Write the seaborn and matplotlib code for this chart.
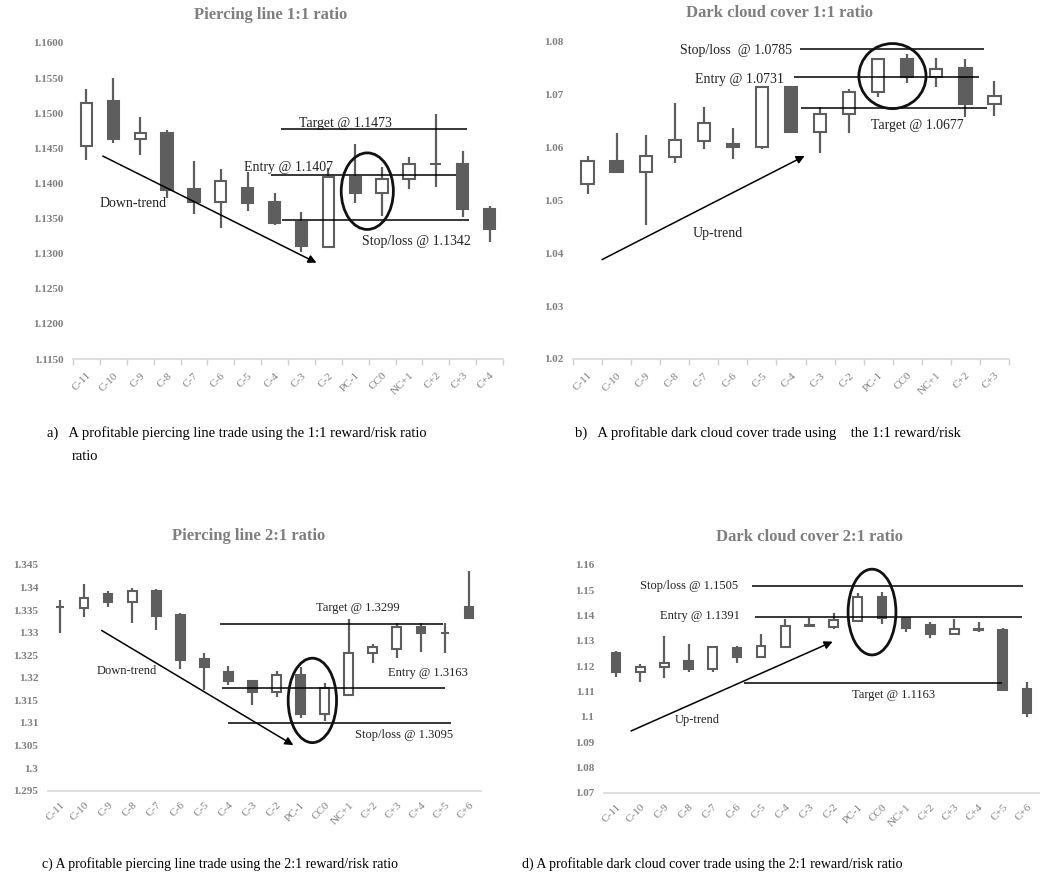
import numpy as np
import matplotlib
matplotlib.use("Agg")
import matplotlib.pyplot as plt
from matplotlib.patches import Ellipse
import seaborn as sns

# ---- data: panel a (piercing line 1:1) ----
labels_a = ["C-11", "C-10", "C-9", "C-8", "C-7", "C-6", "C-5", "C-4", "C-3", "C-2",
            "PC-1", "CC0", "NC+1", "C+2", "C+3", "C+4"]
open_a = [1.1453, 1.1517, 1.1464, 1.1472, 1.1392, 1.1374, 1.1393, 1.1373, 1.1345, 1.1310,
          1.1409, 1.1386, 1.1407, 1.1427, 1.1427, 1.1364]
close_a = [1.1514, 1.1464, 1.1472, 1.1391, 1.1374, 1.1404, 1.1372, 1.1344, 1.1311, 1.1409,
           1.1387, 1.1407, 1.1427, 1.1427, 1.1363, 1.1335]
high_a = [1.1535, 1.1550, 1.1494, 1.1476, 1.1432, 1.1421, 1.1416, 1.1387, 1.1360, 1.1422,
          1.1456, 1.1423, 1.1438, 1.1499, 1.1446, 1.1368]
low_a = [1.1433, 1.1457, 1.1440, 1.1379, 1.1356, 1.1336, 1.1361, 1.1341, 1.1303, 1.1308,
         1.1372, 1.1354, 1.1392, 1.1395, 1.1352, 1.1317]

# ---- data: panel b (dark cloud cover 1:1) ----
labels_b = ["C-11", "C-10", "C-9", "C-8", "C-7", "C-6", "C-5", "C-4", "C-3", "C-2",
            "PC-1", "CC0", "NC+1", "C+2", "C+3"]
open_b = [1.0531, 1.0574, 1.0553, 1.0582, 1.0613, 1.0606, 1.0600, 1.0715, 1.0630, 1.0664,
          1.0704, 1.0767, 1.0733, 1.0750, 1.0682]
close_b = [1.0574, 1.0553, 1.0584, 1.0614, 1.0646, 1.0600, 1.0714, 1.0630, 1.0664, 1.0704,
           1.0767, 1.0733, 1.0748, 1.0682, 1.0697]
high_b = [1.0584, 1.0628, 1.0624, 1.0685, 1.0676, 1.0636, 1.0716, 1.0716, 1.0677, 1.0710,
          1.0770, 1.0777, 1.0770, 1.0767, 1.0726]
low_b = [1.0512, 1.0551, 1.0453, 1.0571, 1.0598, 1.0579, 1.0598, 1.0629, 1.0590, 1.0627,
         1.0696, 1.0721, 1.0714, 1.0658, 1.0659]

# ---- data: panel c (piercing line 2:1) ----
labels_cd = ["C-11", "C-10", "C-9", "C-8", "C-7", "C-6", "C-5", "C-4", "C-3", "C-2",
             "PC-1", "CC0", "NC+1", "C+2", "C+3", "C+4", "C+5", "C+6"]
open_c = [1.3356, 1.3354, 1.3386, 1.3369, 1.3393, 1.3340, 1.3242, 1.3214, 1.3193, 1.3169,
          1.3207, 1.3120, 1.3163, 1.3254, 1.3265, 1.3312, 1.3299, 1.3356]
close_c = [1.3356, 1.3378, 1.3369, 1.3393, 1.3338, 1.3240, 1.3223, 1.3193, 1.3168, 1.3206,
           1.3120, 1.3177, 1.3254, 1.3268, 1.3312, 1.3299, 1.3299, 1.3332]
high_c = [1.3373, 1.3409, 1.3393, 1.3398, 1.3396, 1.3343, 1.3254, 1.3227, 1.3195, 1.3216,
          1.3225, 1.3188, 1.3330, 1.3275, 1.3322, 1.3322, 1.3321, 1.3436]
low_c = [1.3299, 1.3334, 1.3356, 1.3322, 1.3306, 1.3220, 1.3173, 1.3184, 1.3139, 1.3157,
         1.3110, 1.3105, 1.3163, 1.3232, 1.3245, 1.3258, 1.3254, 1.3330]

# ---- data: panel d (dark cloud cover 2:1) ----
open_d = [1.1251, 1.1176, 1.1196, 1.1222, 1.1189, 1.1273, 1.1238, 1.1277, 1.1361, 1.1356,
          1.1380, 1.1475, 1.1392, 1.1363, 1.1326, 1.1347, 1.1343, 1.1110]
close_d = [1.1176, 1.1196, 1.1211, 1.1189, 1.1275, 1.1238, 1.1280, 1.1359, 1.1358, 1.1383,
           1.1475, 1.1389, 1.1350, 1.1326, 1.1347, 1.1345, 1.1106, 1.1016]
high_d = [1.1261, 1.1209, 1.1319, 1.1288, 1.1280, 1.1281, 1.1327, 1.1385, 1.1392, 1.1409,
          1.1488, 1.1495, 1.1396, 1.1376, 1.1385, 1.1376, 1.1350, 1.1136]
low_d = [1.1159, 1.1136, 1.1152, 1.1176, 1.1176, 1.1214, 1.1238, 1.1271, 1.1358, 1.1346,
         1.1380, 1.1367, 1.1337, 1.1310, 1.1326, 1.1337, 1.1102, 1.1001]

# trade levels as drawn (target / entry / stop)
levels_a = [1.1477, 1.1412, 1.1348]
levels_b = [1.0787, 1.0733, 1.0675]
levels_c = [1.3319, 1.3177, 1.3099]
levels_d = [1.1517, 1.1395, 1.1135]

EDGE = "#5e5e5e"
DARK = "#5e5e5e"
GREY = "#7f7f7f"

sns.set_theme(style="white")
plt.rcParams["font.family"] = ["Liberation Serif", "DejaVu Serif"]

fig = plt.figure(figsize=(10.64, 8.86), dpi=100)
W, H = 1064, 886


def add_ax(x0, y0, x1, y1):
    return fig.add_axes([x0 / W, 1 - y1 / H, (x1 - x0) / W, (y1 - y0) / H])


def candles(ax, labels, o, h, l, c, width, ylim, yticks, fmt, tick_marks, xpad):
    x = np.arange(len(labels))
    o, h, l, c = map(np.asarray, (o, h, l, c))
    ax.vlines(x, l, h, color=EDGE, lw=1.6, zorder=2)
    fill = ["white" if cc >= oo else DARK for oo, cc in zip(o, c)]
    ax.bar(x, np.abs(c - o), width, bottom=np.minimum(o, c), color=fill,
           edgecolor=EDGE, linewidth=1.5, zorder=3)
    ax.set_xlim(-0.5, len(labels) - 0.5)
    ax.set_ylim(*ylim)
    ax.set_yticks(yticks)
    ax.set_yticklabels([fmt(v) for v in yticks], fontsize=8, fontweight="bold", color=GREY)
    ax.set_xticks(x)
    ax.set_xticklabels(labels, rotation=45, ha="right", rotation_mode="anchor",
                       fontsize=8, color=GREY)
    ax.tick_params(axis="y", length=0, pad=7)
    ax.tick_params(axis="x", which="major", length=0, pad=xpad)
    if tick_marks:
        ax.set_xticks(np.arange(len(labels) + 1) - 0.5, minor=True)
        ax.tick_params(axis="x", which="minor", length=4, color="#d0d0d0", width=1, bottom=True)
    sns.despine(ax=ax, left=True)
    ax.spines["bottom"].set_color("#d9d9d9")
    ax.spines["bottom"].set_linewidth(1.2)
    ax.grid(False)


def trade_lines(ax, levels, spans):
    for y, (a, b) in zip(levels, spans):
        ax.hlines(y, a, b, color="black", lw=1.1, zorder=4)


def arrow(ax, start, end):
    ax.annotate("", xy=end, xytext=start,
                arrowprops=dict(arrowstyle="-|>", color="black", lw=1.1,
                                mutation_scale=12, shrinkA=0, shrinkB=0))


def ring(ax, center, w, h):
    ax.add_patch(Ellipse(center, w, h, fill=False, edgecolor="#111111", lw=2, zorder=5))


# panel a
ax = add_ax(73, 43, 503, 359)
candles(ax, labels_a, open_a, high_a, low_a, close_a, 0.42, (1.115, 1.16),
        np.linspace(1.115, 1.16, 10), lambda v: f"{v:.4f}", True, 8.5)
trade_lines(ax, levels_a, [(7.23, 14.16), (6.85, 13.76), (7.28, 14.24)])
ax.text(7.9, 1.1485, "Target @ 1.1473", fontsize=10, va="center", color="#222222")
ax.text(5.86, 1.1422, "Entry @ 1.1407", fontsize=10, va="center", color="#222222")
ax.text(10.26, 1.1318, "Stop/loss @ 1.1342", fontsize=10, va="center", color="#222222")
ax.text(0.49, 1.1371, "Down-trend", fontsize=10, va="center", color="#222222")
arrow(ax, (0.61, 1.1439), (8.56, 1.1287))
ring(ax, (10.45, 1.1389), 1.94, 0.0109)

# panel b
ax = add_ax(573, 41.7, 1009, 359)
candles(ax, labels_b, open_b, high_b, low_b, close_b, 0.42, (1.02, 1.08),
        np.linspace(1.02, 1.08, 7), lambda v: f"{v:.2f}", True, 8.5)
trade_lines(ax, levels_b, [(7.3, 13.64), (7.12, 13.48), (7.36, 13.74)])
ax.text(3.19, 1.0784, "Stop/loss  @ 1.0785", fontsize=10, va="center", color="#222222")
ax.text(3.71, 1.0728, "Entry @ 1.0731", fontsize=10, va="center", color="#222222")
ax.text(9.74, 1.0641, "Target @ 1.0677", fontsize=10, va="center", color="#222222")
ax.text(3.6, 1.0437, "Up-trend", fontsize=10, va="center", color="#222222")
arrow(ax, (0.5, 1.0388), (7.47, 1.0584))
ring(ax, (10.49, 1.0735), 2.31, 0.0123)

# panel c
ax = add_ax(48, 565, 481, 790.7)
candles(ax, labels_cd, open_c, high_c, low_c, close_c, 0.36, (1.295, 1.345),
        np.linspace(1.295, 1.345, 11), lambda v: f"{v:g}", False, 7)
trade_lines(ax, levels_c, [(6.65, 15.9), (6.72, 16.0), (6.97, 16.25)])
ax.text(10.64, 1.3354, "Target @ 1.3299", fontsize=9, va="center", color="#222222")
ax.text(13.65, 1.3210, "Entry @ 1.3163", fontsize=9, va="center", color="#222222")
ax.text(12.26, 1.3073, "Stop/loss @ 1.3095", fontsize=9, va="center", color="#222222")
ax.text(1.53, 1.3215, "Down-trend", fontsize=9, va="center", color="#222222")
arrow(ax, (1.73, 1.3305), (9.7, 1.3051))
ring(ax, (10.49, 1.3150), 2.01, 0.0187)

# panel d
ax = add_ax(604, 565, 1039, 792.7)
candles(ax, labels_cd, open_d, high_d, low_d, close_d, 0.36, (1.07, 1.16),
        np.linspace(1.07, 1.16, 10), lambda v: f"{v:g}", False, 7)
trade_lines(ax, levels_d, [(5.64, 16.83), (5.73, 16.79), (5.28, 15.96)])
ax.text(5.04, 1.1518, "Stop/loss @ 1.1505", fontsize=9, va="center", ha="right", color="#222222")
ax.text(5.14, 1.1400, "Entry @ 1.1391", fontsize=9, va="center", ha="right", color="#222222")
ax.text(9.78, 1.1086, "Target @ 1.1163", fontsize=9, va="center", color="#222222")
ax.text(2.42, 1.0987, "Up-trend", fontsize=9, va="center", color="#222222")
arrow(ax, (0.62, 1.0944), (8.96, 1.1297))
ring(ax, (10.59, 1.1414), 1.98, 0.0339)

# titles
for px, py, s in [(271, 15, "Piercing line 1:1 ratio"), (780, 13, "Dark cloud cover 1:1 ratio"),
                  (249, 536, "Piercing line 2:1 ratio"), (809, 537, "Dark cloud cover 2:1 ratio")]:
    fig.text(px / W, 1 - py / H, s, ha="center", va="center", fontsize=12,
             fontweight="bold", color=GREY)

# captions
fig.text(47 / W, 1 - 433 / H, "a)   A profitable piercing line trade using the 1:1 reward/risk ratio",
         fontsize=10.5, va="center", color="black")
fig.text(72 / W, 1 - 457 / H, "ratio", fontsize=10.5, va="center", color="black")
fig.text(575 / W, 1 - 433 / H, "b)   A profitable dark cloud cover trade using    the 1:1 reward/risk",
         fontsize=10.5, va="center", color="black")
fig.text(42 / W, 1 - 864 / H, "c) A profitable piercing line trade using the 2:1 reward/risk ratio",
         fontsize=10, va="center", color="black")
fig.text(522 / W, 1 - 864 / H, "d) A profitable dark cloud cover trade using the 2:1 reward/risk ratio",
         fontsize=10, va="center", color="black")

fig.savefig("out.png", dpi=100)
